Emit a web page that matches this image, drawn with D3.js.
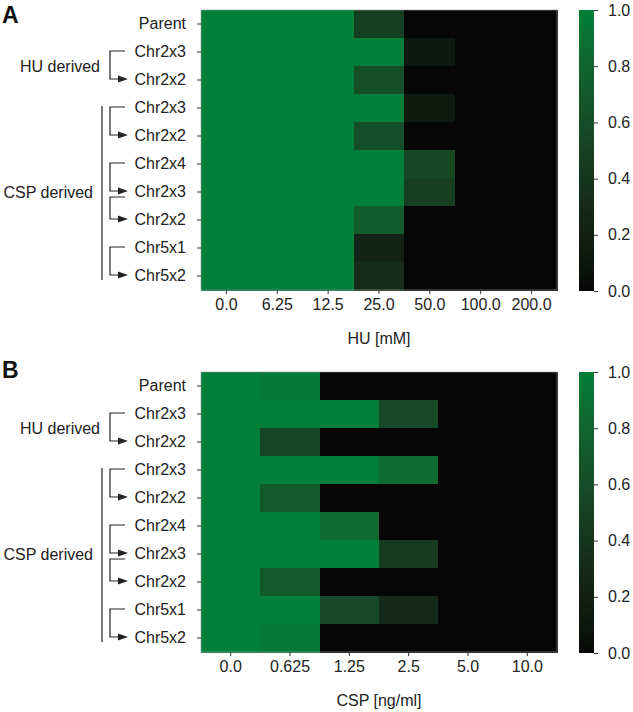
<!DOCTYPE html>
<html><head><meta charset="utf-8">
<script src="https://cdn.jsdelivr.net/npm/d3@7"></script>
<style>body{margin:0;background:#fff}svg{display:block}text{font-family:"Liberation Sans",Arial,sans-serif;fill:#222}</style>
</head><body>
<svg id="c" width="633" height="712"></svg>
<script>
const rowLabels = ["Parent","Chr2x3","Chr2x2","Chr2x3","Chr2x2","Chr2x4","Chr2x3","Chr2x2","Chr5x1","Chr5x2"];
const huDoses = ["0.0","6.25","12.5","25.0","50.0","100.0","200.0"];
const cspDoses = ["0.0","0.625","1.25","2.5","5.0","10.0"];
const huValues = [
  [1,1,1,0.47,0,0,0],
  [1,1,1,1,0.12,0,0],
  [1,1,1,0.61,0,0,0],
  [1,1,1,1,0.14,0,0],
  [1,1,1,0.62,0,0,0],
  [1,1,1,1,0.56,0,0],
  [1,1,1,1,0.47,0,0],
  [1,1,1,0.73,0,0,0],
  [1,1,1,0.24,0,0,0],
  [1,1,1,0.33,0,0,0]
];
const cspValues = [
  [1,0.95,0,0,0,0],
  [1,1,1,0.57,0,0],
  [1,0.55,0,0,0,0],
  [1,1,1,0.85,0,0],
  [1,0.7,0,0,0,0],
  [1,1,0.85,0,0,0],
  [1,1,1,0.45,0,0],
  [1,0.7,0,0,0,0],
  [1,1,0.57,0.3,0,0],
  [1,0.95,0,0,0,0]
];
const colorTicks = [0,0.2,0.4,0.6,0.8,1.0];
// groups: [label, firstRow, lastRow]
const groups = [["HU derived",1,2],["CSP derived",3,9]];
const brackets = [[1,2],[3,4],[5,6],[6,7],[8,9]];

const svg = d3.select("#c");
const color = d3.scaleLinear().domain([0,1]).range(["#060606","#007f38"]).interpolate(d3.interpolateLab);

function panel(letter, doses, values, title, top, letterY) {
  const g = svg.append("g");
  const x = d3.scaleBand().domain(doses.map((d,i)=>i)).range([201,557]);
  const y = d3.scaleBand().domain(rowLabels.map((d,i)=>i)).range([top, top+280]);
  g.append("text").attr("x",2).attr("y",letterY).attr("font-size",23).attr("font-weight","bold").style("fill","#111").text(letter);
  const cells = g.append("g").attr("shape-rendering","crispEdges");
  values.forEach((row,ri)=>row.forEach((v,ci)=>{
    cells.append("rect").attr("x",x(ci)).attr("y",y(ri)).attr("width",x.bandwidth()+1).attr("height",y.bandwidth()+1).attr("fill",color(v));
  }));
  g.append("rect").attr("x",201).attr("y",top).attr("width",356).attr("height",280).attr("fill","none").attr("stroke","#999").attr("stroke-width",0.6);
  // y axis
  const ya = g.append("g").attr("transform","translate(201,0)").call(d3.axisLeft(y).tickSize(4).tickPadding(11).tickFormat(i=>rowLabels[i]));
  ya.select(".domain").remove();
  ya.selectAll("text").attr("font-size",16).style("font-family",'"Liberation Sans",Arial,sans-serif').attr("fill","#222");
  ya.selectAll("line").attr("stroke","#333");
  // x axis
  const xa = g.append("g").attr("transform",`translate(0,${top+280})`).call(d3.axisBottom(x).tickSize(4).tickPadding(5).tickFormat(i=>doses[i]));
  xa.select(".domain").remove();
  xa.selectAll("text").attr("font-size",16).style("font-family",'"Liberation Sans",Arial,sans-serif').attr("fill","#222");
  xa.selectAll("line").attr("stroke","#333");
  g.append("text").attr("x",379).attr("y",top+334).attr("text-anchor","middle").attr("font-size",16).text(title);
  // brackets
  const cy = i => y(i)+y.bandwidth()/2;
  brackets.forEach(([a,b],k)=>{
    const y0 = (k===3) ? cy(a)+5 : cy(a)-1;
    const y1 = cy(b)-1;
    g.append("path").attr("d",`M125,${y0}H110V${y1}H119`).attr("fill","none").attr("stroke","#222").attr("stroke-width",1.2);
    g.append("path").attr("d",`M118,${y1-3.5}L128,${y1}L118,${y1+3.5}Z`).attr("fill","#222");
  });
  groups.forEach(([lab,a,b],k)=>{
    if (k===1) g.append("line").attr("x1",102).attr("x2",102).attr("y1",cy(a)-2).attr("y2",cy(b)+4).attr("stroke","#333").attr("stroke-width",1.3);
    const xr = k===0 ? 100 : 93;
    g.append("text").attr("x",xr).attr("y",(cy(a)+cy(b))/2+6).attr("text-anchor","end").attr("font-size",16).text(lab);
  });
  // colorbar
  const cb = d3.scaleLinear().domain([0,1]).range([top+281, top]);
  const gid = "grad"+letter;
  const grad = svg.append("defs").append("linearGradient").attr("id",gid).attr("x1",0).attr("x2",0).attr("y1",1).attr("y2",0);
  d3.range(0,1.0001,0.05).forEach(t=>grad.append("stop").attr("offset",t).attr("stop-color",color(t)));
  g.append("rect").attr("x",579).attr("y",top).attr("width",15).attr("height",281).attr("fill",`url(#${gid})`);
  const ca = g.append("g").attr("transform","translate(594,0)").call(d3.axisRight(cb).tickValues(colorTicks).tickSize(4).tickPadding(10).tickFormat(d3.format(".1f")));
  ca.select(".domain").remove();
  ca.selectAll("text").attr("font-size",16).style("font-family",'"Liberation Sans",Arial,sans-serif').attr("fill","#222");
  ca.selectAll("line").attr("stroke","#333");
}
panel("A", huDoses, huValues, "HU [mM]", 10, 23);
panel("B", cspDoses, cspValues, "CSP [ng/ml]", 372, 378);
</script>
</body></html>
